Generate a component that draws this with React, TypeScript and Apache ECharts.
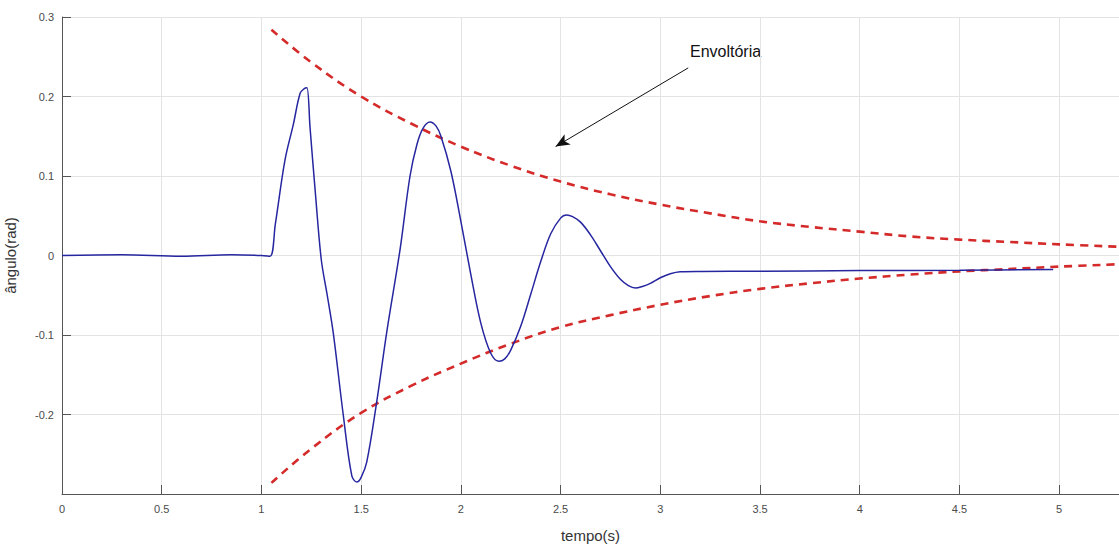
import React, { useEffect, useRef } from "react";
import * as echarts from "echarts";

const signalT = [0, 0.3, 0.6, 0.85, 1.0, 1.043, 1.07, 1.118, 1.16, 1.194, 1.215, 1.228, 1.244, 1.27, 1.30, 1.33, 1.36, 1.41, 1.453, 1.478, 1.50, 1.528, 1.578, 1.628, 1.695, 1.745, 1.78, 1.81, 1.845, 1.875, 1.9, 1.95, 2.0, 2.05, 2.1, 2.15, 2.19, 2.22, 2.25, 2.3, 2.35, 2.4, 2.45, 2.5, 2.53, 2.56, 2.6, 2.65, 2.7, 2.75, 2.8, 2.84, 2.875, 2.91, 2.95, 3.0, 3.05, 3.1, 3.2, 3.5, 4.0, 4.5, 4.97];
const signalV = [0, 0.001, -0.001, 0.001, 0.0, -0.001, 0.04, 0.12, 0.165, 0.204, 0.21, 0.211, 0.16, 0.08, -0.005, -0.05, -0.097, -0.2, -0.277, -0.285, -0.279, -0.26, -0.184, -0.097, 0.0075, 0.1, 0.14, 0.16, 0.168, 0.163, 0.15, 0.106, 0.043, -0.024, -0.085, -0.123, -0.133, -0.13, -0.119, -0.089, -0.049, -0.008, 0.027, 0.047, 0.051, 0.049, 0.042, 0.026, 0.006, -0.014, -0.03, -0.038, -0.041, -0.039, -0.035, -0.028, -0.023, -0.0205, -0.02, -0.0197, -0.019, -0.0185, -0.0175];

const envT = [1.05, 1.25, 1.5, 1.75, 2.0, 2.25, 2.5, 2.75, 3.0, 3.25, 3.5, 3.75, 4.0, 4.25, 4.5, 4.75, 5.0, 5.3];
const envUpper = [0.284, 0.243, 0.2, 0.166, 0.137, 0.113, 0.093, 0.077, 0.064, 0.053, 0.043, 0.036, 0.03, 0.024, 0.02, 0.017, 0.014, 0.011];
const envLower = [-0.286, -0.243, -0.198, -0.164, -0.136, -0.111, -0.09, -0.075, -0.062, -0.051, -0.042, -0.035, -0.029, -0.024, -0.02, -0.017, -0.014, -0.011];

const arrowFrom = [3.14, 0.236];
const arrowTo = [2.475, 0.137];
const annotationText = "Envoltória";

const xTicks = { min: 0, max: 5.3, interval: 0.5 };
const yTicks = { min: -0.3, max: 0.3, interval: 0.1 };

export default function App() {
  const ref = useRef<HTMLDivElement>(null);
  useEffect(() => {
    if (!ref.current) return;
    const chart = echarts.init(ref.current, undefined, { renderer: "svg" });
    const font = "'Liberation Sans', Arial, sans-serif";
    const labelColor = "#4a4a4a";
    chart.setOption({
      animation: false,
      backgroundColor: "#ffffff",
      grid: { left: 62, right: 0, top: 17, bottom: 50, containLabel: false, outerBoundsMode: "none" },
      xAxis: {
        type: "value",
        min: xTicks.min,
        max: xTicks.max,
        interval: xTicks.interval,
        name: "tempo(s)",
        nameLocation: "middle",
        nameGap: 34,
        nameTextStyle: { fontFamily: font, fontSize: 15, color: "#333" },
        axisLine: { show: true, onZero: false, lineStyle: { color: "#555", width: 1 } },
        axisTick: { show: true, inside: true, length: 9, lineStyle: { color: "#555" } },
        axisLabel: {
          fontFamily: font,
          fontSize: 11,
          color: labelColor,
          margin: 9,
          showMaxLabel: false,
          formatter: (v: number) => {
            const r = Math.round(v * 10) / 10;
            return Math.abs(r / 0.5 - Math.round(r / 0.5)) < 1e-6 ? String(r) : "";
          },
        },
        splitLine: { show: true, lineStyle: { color: "#e3e3e3", width: 1 } },
      },
      yAxis: {
        type: "value",
        min: yTicks.min,
        max: yTicks.max,
        interval: yTicks.interval,
        name: "ângulo(rad)",
        nameLocation: "middle",
        nameGap: 44,
        nameRotate: 90,
        nameTextStyle: { fontFamily: font, fontSize: 15, color: "#333" },
        axisLine: { show: true, onZero: false, lineStyle: { color: "#555", width: 1 } },
        axisTick: { show: true, inside: true, length: 9, lineStyle: { color: "#555" } },
        axisLabel: {
          fontFamily: font,
          fontSize: 11,
          color: labelColor,
          margin: 8,
          formatter: (v: number) => {
            const r = Math.round(v * 10) / 10;
            if (Math.abs(r + 0.3) < 1e-6) return "";
            return String(r);
          },
        },
        splitLine: { show: true, lineStyle: { color: "#e3e3e3", width: 1 } },
      },
      series: [
        {
          type: "line",
          name: "upper",
          data: envT.map((t, i) => [t, envUpper[i]]),
          showSymbol: false,
          smooth: 0.4,
          lineStyle: { color: "#d42a2a", width: 2.6, type: [8, 6] },
          z: 2,
        },
        {
          type: "line",
          name: "lower",
          data: envT.map((t, i) => [t, envLower[i]]),
          showSymbol: false,
          smooth: 0.4,
          lineStyle: { color: "#d42a2a", width: 2.6, type: [8, 6] },
          z: 2,
        },
        {
          type: "line",
          name: "signal",
          data: signalT.map((t, i) => [t, signalV[i]]),
          showSymbol: false,
          smooth: 0.35,
          lineStyle: { color: "#2626a0", width: 1.5 },
          z: 3,
          markLine: {
            silent: true,
            symbol: ["none", "arrow"],
            symbolSize: [9, 14],
            label: { show: false },
            lineStyle: { color: "#111", width: 1, type: "solid" },
            data: [[{ coord: arrowFrom }, { coord: arrowTo }]],
          },
        },
      ],
      graphic: [
        {
          type: "text",
          left: 690,
          top: 43,
          style: { text: annotationText, fontFamily: font, fontSize: 16, fill: "#111" },
        },
      ],
    });
    return () => chart.dispose();
  }, []);
  return (
    <div
      ref={ref}
      style={{ position: "absolute", left: 0, top: 0, width: 1119, height: 544, background: "#fff" }}
    />
  );
}
